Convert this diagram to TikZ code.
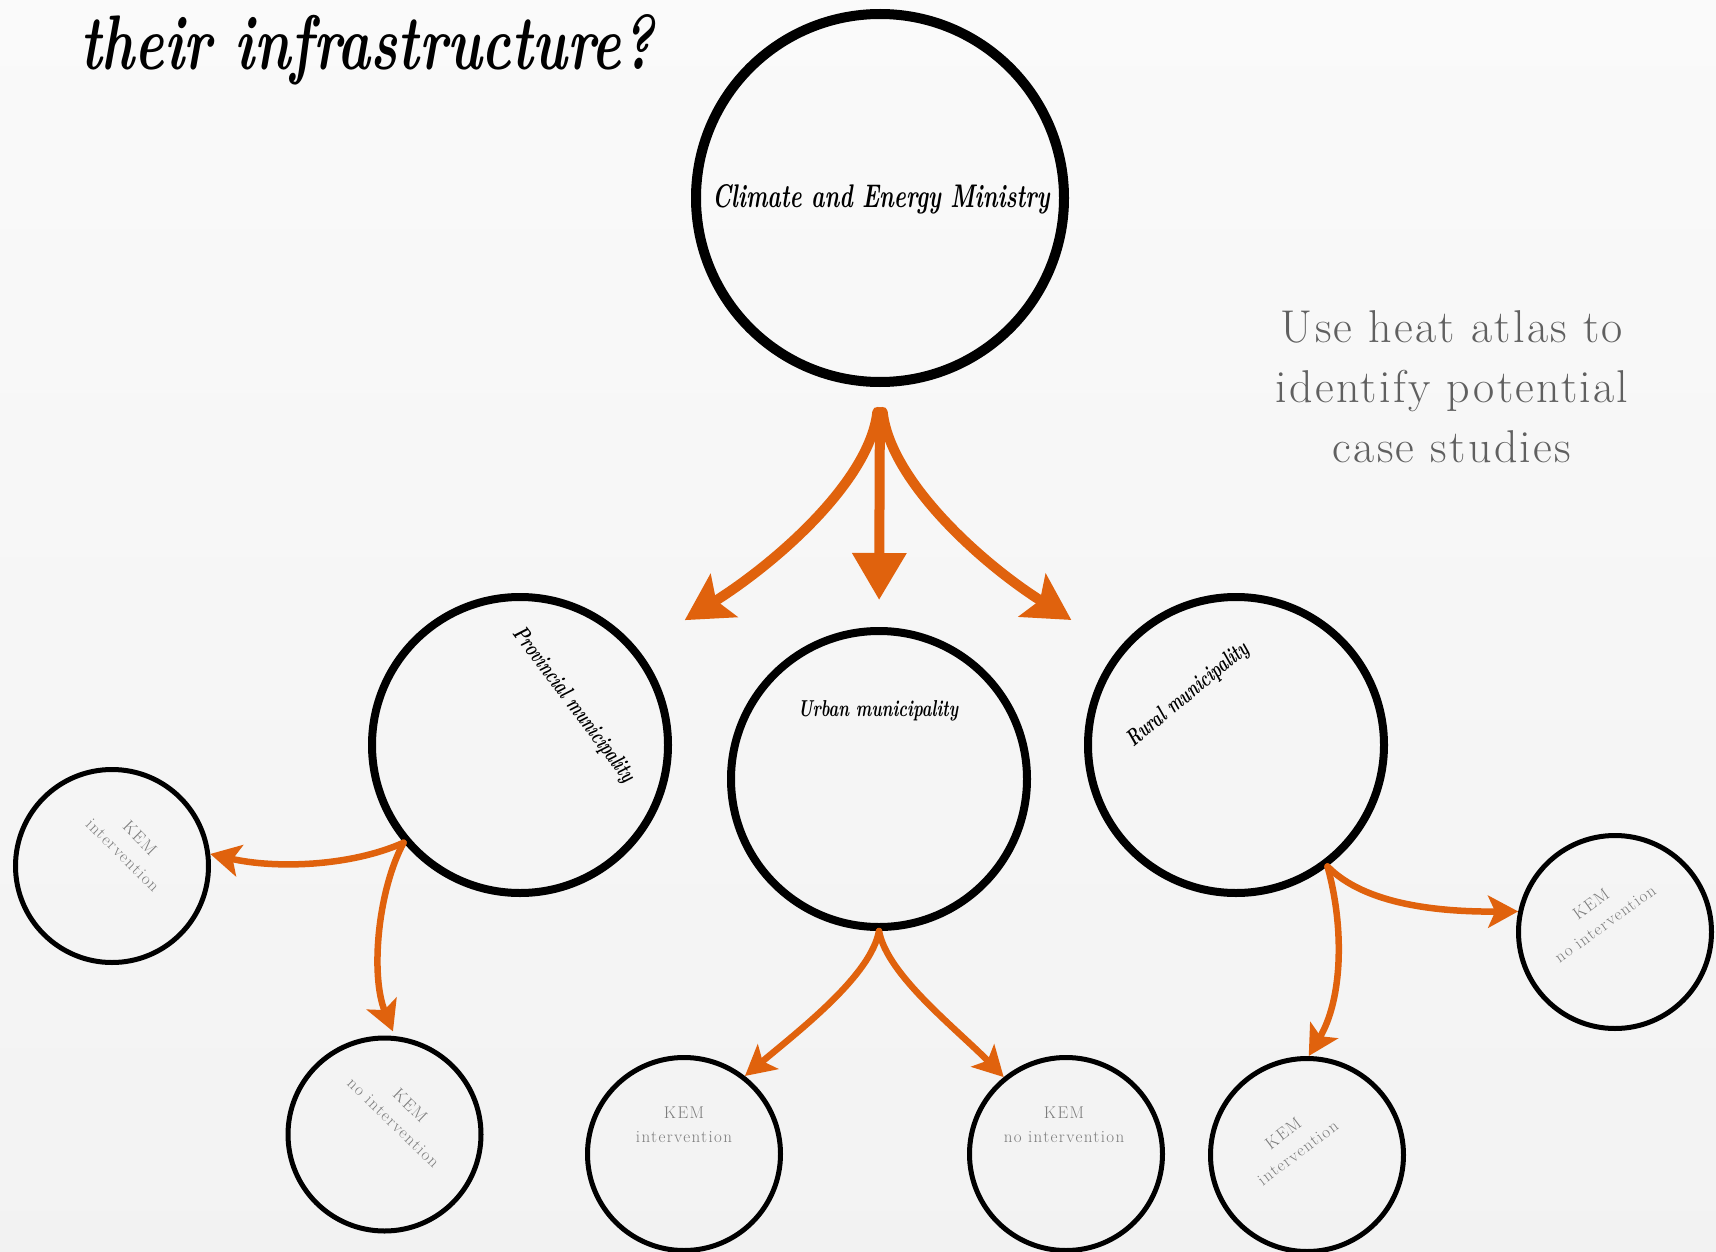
\documentclass[tikz,border=0pt]{standalone}
\usepackage{fontspec}
\usetikzlibrary{arrows.meta,calc}
\definecolor{arr}{HTML}{E0620D}
\definecolor{soft}{HTML}{606060}
\definecolor{kemgray}{HTML}{7C7C7C}
\newfontfamily\slabwide{Latin Modern Roman}[LetterSpace=5]
\newfontfamily\slabsmall{Latin Modern Roman}[LetterSpace=8]
\begin{document}
\begin{tikzpicture}[x=1pt,y=-1pt,
  bigring/.style={circle,draw,line width=10pt,minimum size=368pt,inner sep=0pt},
  midring/.style={circle,draw,line width=8pt,minimum size=296pt,inner sep=0pt},
  smallring/.style={circle,draw,line width=5pt,minimum size=193pt,inner sep=0pt},
  script/.style={inner sep=0pt,font=\bfseries\itshape},
  kem/.style={text=kemgray,font=\slabsmall\fontsize{17}{24}\selectfont,align=center,inner sep=0pt},
  bigarrow/.style={draw=arr,line width=10pt,line cap=round},
  curvedhead/.style={-{Stealth[length=46pt,width=50pt,inset=9pt]}},
  smallarrow/.style={draw=arr,line width=6.5pt,line cap=round,
    -{Stealth[length=30pt,width=32pt,inset=7pt]}}
]
% page and soft background
\useasboundingbox (0,0) rectangle (1716,1252);
\shade[top color=black!2, middle color=white, bottom color=black!5] (0,0) rectangle (1716,1252);

% rings
\node[bigring] (min) at (880,198) {};
\node[midring] (prov) at (520,745) {};
\node[midring] (urb) at (879,779) {};
\node[midring] (rur) at (1236,745) {};
\node[smallring] (kemA) at (112,866) {};
\node[smallring] (kemB) at (384.5,1134.5) {};
\node[smallring] (kemC) at (684,1154) {};
\node[smallring] (kemD) at (1066,1154) {};
\node[smallring] (kemE) at (1307,1155) {};
\node[smallring] (kemF) at (1615,932) {};

% headline
\node[anchor=base west,inner sep=0pt,font=\bfseries\itshape] (title) at (80,70)
  {\resizebox{574pt}{55pt}{their infrastructure?}};

% ring labels
\node[script,anchor=base] (minlbl) at (881,208)
  {\resizebox{337pt}{23pt}{Climate and Energy Ministry}};
\node[script,anchor=base] (urblbl) at (878,716)
  {\resizebox{160pt}{16pt}{Urban municipality}};
\node[script,rotate=-53] (provlbl) at (573,705)
  {\resizebox{188pt}{16pt}{Provincial municipality}};
\node[script,rotate=39.5] (rurlbl) at (1188,695)
  {\resizebox{151pt}{16pt}{Rural municipality}};

\node[text=soft,font=\slabwide\fontsize{46}{60}\selectfont,align=center,inner sep=0pt] (atlas)
  at (1452,387) {Use heat atlas to\\identify potential\\case studies};

\node[kem,rotate=-45] (lblA) at (131.5,846.5) {KEM\\intervention};
\node[kem,rotate=-44] (lblB) at (402,1114) {KEM\\no intervention};
\node[kem] (lblC) at (684,1125) {KEM\\intervention};
\node[kem] (lblD) at (1064,1125) {KEM\\no intervention};
\node[kem,rotate=37] (lblE) at (1290.5,1143) {KEM\\intervention};
\node[kem,rotate=36] (lblF) at (1598,914) {KEM\\no intervention};

% ministry to municipalities
\draw[bigarrow,-{Triangle[length=47pt,width=52pt]},shorten <=25pt,shorten >=27pt]
  (min.south) -- (urb.north);
\draw[bigarrow,curvedhead,shorten <=25pt,shorten >=55pt]
  (min.south) .. controls (870,480) and (777.5,562) .. (prov.39);
\draw[bigarrow,curvedhead,shorten <=25pt,shorten >=55pt]
  (min.south) .. controls (890,480) and (979.5,562) .. (rur.141);

% provincial branch
\draw[smallarrow] (prov.220) .. controls (349,867) and (274,868.6) .. (kemA.7);
\draw[smallarrow,shorten >=5pt] (prov.220) .. controls (378,890) and (370,975) .. (kemB.84);

% urban branch
\draw[smallarrow] (urb.south) .. controls (871,975) and (801.6,1028.6) .. (kemC.52);
\draw[smallarrow] (urb.south) .. controls (887,975) and (956.4,1028.6) .. (kemD.129);

% rural branch
\draw[smallarrow] (rur.307) .. controls (1365,905) and (1440,912) .. (kemF.168);
\draw[smallarrow] (rur.307) .. controls (1345,930) and (1342,1000) .. (kemE.89);
\end{tikzpicture}
\end{document}
